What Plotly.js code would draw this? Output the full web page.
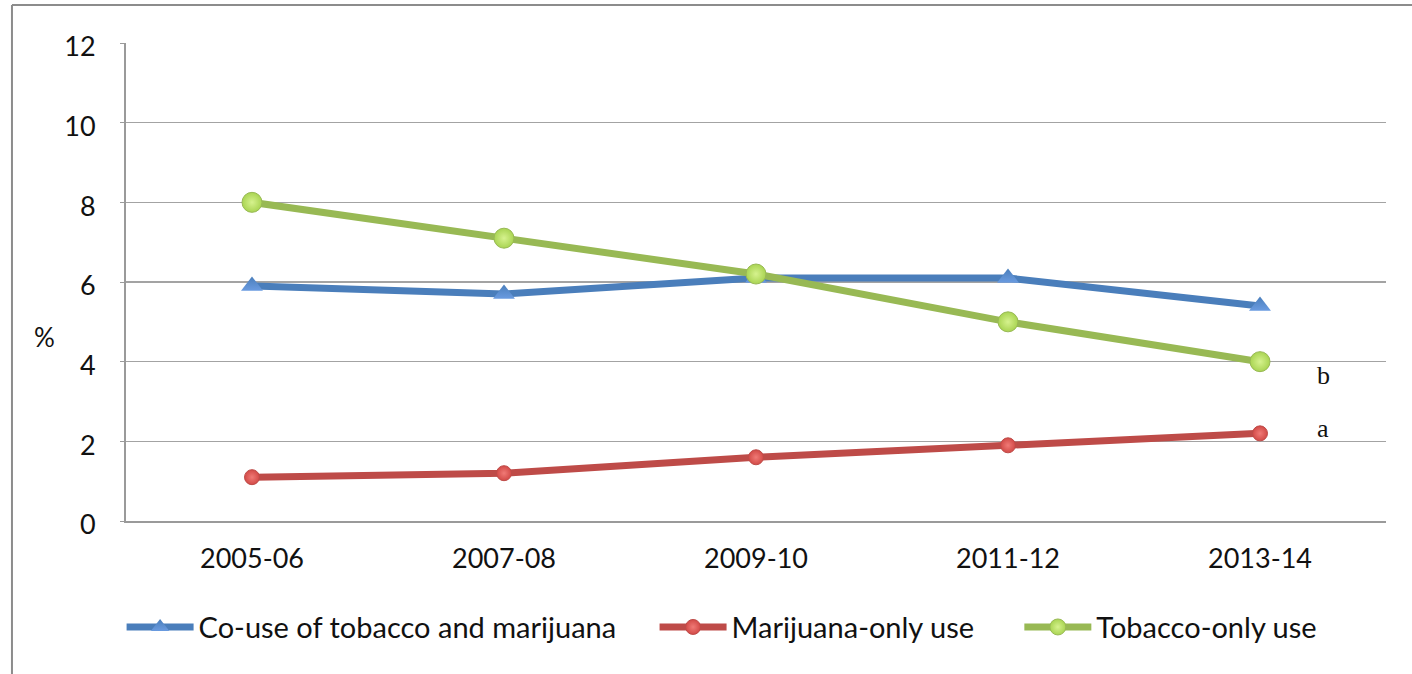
<!DOCTYPE html>
<html>
<head>
<meta charset="utf-8">
<script src="https://cdn.plot.ly/plotly-3.0.1.min.js"></script>
<style>
  html, body { margin: 0; padding: 0; background: #ffffff; }
  #chart { width: 1412px; height: 674px; }
</style>
</head>
<body>
<div id="chart"></div>
<script>
// Survey periods on the category axis
const periods = ['2005-06', '2007-08', '2009-10', '2011-12', '2013-14'];

// Prevalence (%) by group
const coUse = [5.9, 5.7, 6.1, 6.1, 5.4];
const marijuanaOnly = [1.1, 1.2, 1.6, 1.9, 2.2];
const tobaccoOnly = [8.0, 7.1, 6.2, 5.0, 4.0];

// y axis ticks
const yTicks = [0, 2, 4, 6, 8, 10, 12];

// significance markers shown beside the last period
const noteLabels = ['b', 'a'];
const noteY = [3.66, 2.33];

const FONT = 'Lato, "Open Sans", sans-serif';

const traces = [
  {
    name: 'Co-use of tobacco and marijuana', legend: 'legend',
    x: periods, y: coUse, type: 'scatter', mode: 'lines+markers',
    line: { color: '#4a7ebb', width: 7 },
    marker: { symbol: 'triangle-up', size: 19, color: '#4a7ebb',
              gradient: { type: 'vertical', color: '#6a9be0' }, line: { width: 0 } }
  },
  {
    name: 'Marijuana-only use', legend: 'legend2',
    x: periods, y: marijuanaOnly, type: 'scatter', mode: 'lines+markers',
    line: { color: '#be4b48', width: 7 },
    marker: { symbol: 'circle', size: 15, color: '#d24a47',
              gradient: { type: 'radial', color: '#f07a76' }, line: { color: '#be4b48', width: 1 } }
  },
  {
    name: 'Tobacco-only use', legend: 'legend3',
    x: periods, y: tobaccoOnly, type: 'scatter', mode: 'lines+markers',
    line: { color: '#98b954', width: 7 },
    marker: { symbol: 'circle', size: 20, color: '#a9d452',
              gradient: { type: 'radial', color: '#d6f28e' }, line: { color: '#98b954', width: 1 } }
  }
];

const annotations = noteLabels.map((t, i) => ({
  text: t, x: 4.22, y: noteY[i], xref: 'x', yref: 'y',
  showarrow: false, xanchor: 'left', yanchor: 'middle',
  font: { family: '"Liberation Serif", "DejaVu Serif", serif', size: 26, color: '#111' }
}));
annotations.push({
  text: '%', xref: 'paper', yref: 'paper', x: -0.065, y: 0.385,
  showarrow: false, xanchor: 'center', yanchor: 'middle',
  font: { family: FONT, size: 26, color: '#111' }
});

// one legend box per series so each entry sits at its own spot
function legendAt(x) {
  return {
    orientation: 'h', x: x, xanchor: 'left', y: -0.222, yanchor: 'middle',
    font: { family: FONT, size: 29, color: '#111' },
    itemwidth: 67, bgcolor: 'rgba(0,0,0,0)'
  };
}

const layout = {
  width: 1412, height: 674,
  margin: { l: 126, r: 26, t: 43, b: 153 },
  paper_bgcolor: '#ffffff', plot_bgcolor: '#ffffff',
  font: { family: FONT, size: 27, color: '#111' },
  showlegend: true,
  legend: legendAt(-0.0035),
  legend2: legendAt(0.4195),
  legend3: legendAt(0.709),
  xaxis: {
    type: 'category', range: [-0.5, 4.5],
    showgrid: false, zeroline: false,
    showline: true, linecolor: '#9a9a9a', linewidth: 2,
    ticks: '', ticklabelstandoff: 13,
    tickfont: { family: FONT, size: 27, color: '#111' }
  },
  yaxis: {
    range: [0, 12], tickvals: yTicks, ticktext: yTicks.map(String),
    showgrid: true, gridcolor: '#a3a3a3', gridwidth: 1.5,
    zeroline: false, showline: true, linecolor: '#9a9a9a', linewidth: 2,
    ticks: 'outside', ticklen: 4, tickcolor: '#9a9a9a',
    ticklabelstandoff: 19, ticklabelshift: 4,
    tickfont: { family: FONT, size: 27, color: '#111' }
  },
  annotations: annotations,
  shapes: [
    // outer chart frame (left and top edges)
    { type: 'line', xref: 'paper', yref: 'paper', x0: -0.0905, x1: -0.0905, y0: 1.0795, y1: -0.35,
      line: { color: '#8c8c8c', width: 2 } },
    { type: 'line', xref: 'paper', yref: 'paper', x0: -0.0905, x1: 1.05, y0: 1.0795, y1: 1.0795,
      line: { color: '#8c8c8c', width: 2 } }
  ]
};

Plotly.newPlot('chart', traces, layout, { displayModeBar: false, staticPlot: true });
</script>
</body>
</html>
